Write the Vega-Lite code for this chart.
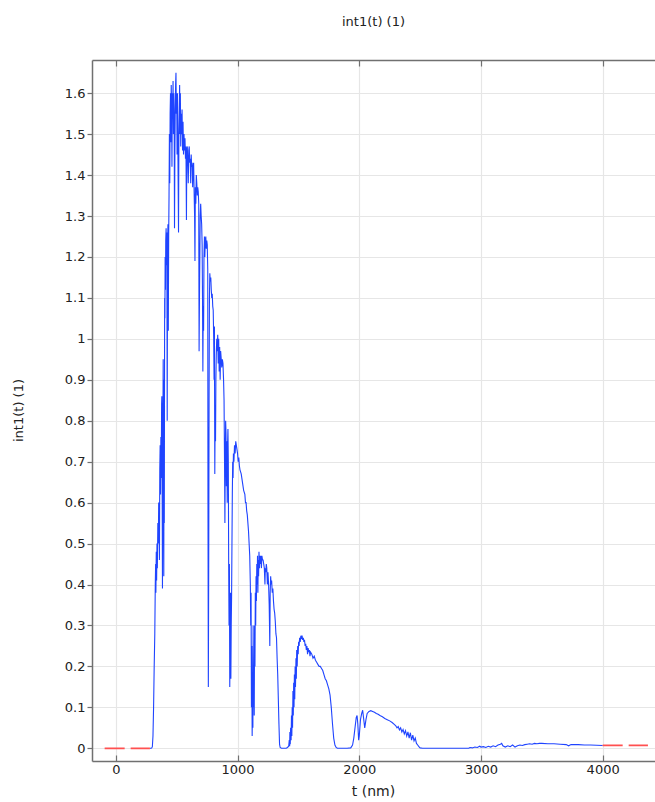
{
  "$schema": "https://vega.github.io/schema/vega-lite/v6.json",
  "width": 563,
  "height": 701,
  "autosize": {"type": "none"},
  "padding": {"left": 92, "top": 60, "right": 0, "bottom": 41},
  "background": "white",
  "config": {
    "view": {"stroke": null},
    "font": "DejaVu Sans",
    "axis": {
      "domainColor": "#707070", "domainWidth": 1.5,
      "tickColor": "#707070", "tickWidth": 1.2,
      "gridColor": "#e6e6e6", "gridWidth": 1.2,
      "labelFont": "DejaVu Sans", "labelFontSize": 13, "labelColor": "#222222",
      "titleFont": "DejaVu Sans", "titleFontSize": 13, "titleFontWeight": "normal", "titleColor": "#222222"
    }
  },
  "title": {"text": "int1(t) (1)", "font": "DejaVu Sans", "fontSize": 13, "fontWeight": "normal", "color": "#222222", "anchor": "middle", "baseline": "bottom", "offset": 17, "frame": "group"},
  "datasets": {
    "spec": [
      {"t":280,"v":0},{"t":290,"v":0},{"t":295,"v":0.001},{"t":300,"v":0.004},{"t":305,"v":0.03},{"t":310,"v":0.1},{"t":315,"v":0.2},{"t":320,"v":0.28},{"t":324,"v":0.4},{"t":327,"v":0.45},{"t":329,"v":0.38},{"t":332,"v":0.48},{"t":335,"v":0.41},{"t":338,"v":0.5},{"t":341,"v":0.44},{"t":345,"v":0.55},{"t":349,"v":0.5},{"t":352,"v":0.6},{"t":355,"v":0.58},{"t":358,"v":0.46},{"t":361,"v":0.68},{"t":364,"v":0.74},{"t":367,"v":0.62},{"t":370,"v":0.76},{"t":373,"v":0.66},{"t":376,"v":0.84},{"t":378,"v":0.86},{"t":380,"v":0.7},{"t":383,"v":0.39},{"t":386,"v":0.74},{"t":389,"v":0.95},{"t":392,"v":0.6},{"t":394,"v":0.42},{"t":396,"v":0.9},{"t":398,"v":0.55},{"t":401,"v":1.1},{"t":403,"v":1.05},{"t":405,"v":1.2},{"t":408,"v":1.12},{"t":410,"v":1.24},{"t":413,"v":1.27},{"t":416,"v":1.18},{"t":419,"v":1.26},{"t":422,"v":0.8},{"t":425,"v":1.22},{"t":428,"v":1.28},{"t":431,"v":1.02},{"t":434,"v":1.25},{"t":437,"v":1.35},{"t":440,"v":1.5},{"t":443,"v":1.38},{"t":446,"v":1.55},{"t":449,"v":1.6},{"t":452,"v":1.48},{"t":455,"v":1.62},{"t":458,"v":1.56},{"t":461,"v":1.42},{"t":464,"v":1.6},{"t":467,"v":1.54},{"t":470,"v":1.63},{"t":473,"v":1.5},{"t":476,"v":1.6},{"t":479,"v":1.55},{"t":482,"v":1.27},{"t":485,"v":1.45},{"t":488,"v":1.56},{"t":491,"v":1.62},{"t":494,"v":1.65},{"t":497,"v":1.55},{"t":500,"v":1.6},{"t":503,"v":1.45},{"t":506,"v":1.6},{"t":509,"v":1.5},{"t":512,"v":1.38},{"t":515,"v":1.26},{"t":518,"v":1.5},{"t":521,"v":1.56},{"t":524,"v":1.62},{"t":527,"v":1.5},{"t":530,"v":1.6},{"t":533,"v":1.47},{"t":536,"v":1.55},{"t":540,"v":1.5},{"t":544,"v":1.56},{"t":548,"v":1.46},{"t":552,"v":1.53},{"t":556,"v":1.45},{"t":560,"v":1.5},{"t":564,"v":1.46},{"t":568,"v":1.49},{"t":572,"v":1.44},{"t":576,"v":1.47},{"t":580,"v":1.29},{"t":583,"v":1.46},{"t":587,"v":1.47},{"t":591,"v":1.43},{"t":595,"v":1.38},{"t":599,"v":1.46},{"t":603,"v":1.47},{"t":607,"v":1.43},{"t":611,"v":1.44},{"t":615,"v":1.38},{"t":619,"v":1.45},{"t":623,"v":1.42},{"t":627,"v":1.43},{"t":631,"v":1.37},{"t":635,"v":1.42},{"t":639,"v":1.43},{"t":643,"v":1.36},{"t":647,"v":1.3},{"t":650,"v":1.19},{"t":653,"v":1.37},{"t":657,"v":1.33},{"t":661,"v":1.4},{"t":665,"v":1.38},{"t":669,"v":1.35},{"t":673,"v":1.37},{"t":677,"v":1.36},{"t":681,"v":1.33},{"t":684,"v":0.97},{"t":687,"v":1.1},{"t":690,"v":1.2},{"t":693,"v":1.3},{"t":697,"v":1.33},{"t":701,"v":1.3},{"t":705,"v":1.28},{"t":709,"v":1.23},{"t":712,"v":1.1},{"t":715,"v":0.92},{"t":718,"v":1.08},{"t":721,"v":1.02},{"t":724,"v":1.2},{"t":728,"v":1.25},{"t":731,"v":1.2},{"t":735,"v":1.24},{"t":739,"v":1.25},{"t":743,"v":1.22},{"t":747,"v":1.24},{"t":751,"v":1.23},{"t":755,"v":1.17},{"t":757,"v":0.6},{"t":760,"v":0.15},{"t":763,"v":0.45},{"t":766,"v":0.85},{"t":769,"v":1.1},{"t":772,"v":1.16},{"t":776,"v":1.14},{"t":780,"v":1.15},{"t":784,"v":1.12},{"t":788,"v":1.1},{"t":792,"v":1.11},{"t":796,"v":1.08},{"t":800,"v":1.07},{"t":804,"v":1.0},{"t":807,"v":0.9},{"t":810,"v":1.03},{"t":813,"v":0.67},{"t":816,"v":0.82},{"t":819,"v":0.75},{"t":822,"v":0.9},{"t":825,"v":0.96},{"t":829,"v":1.0},{"t":833,"v":0.97},{"t":837,"v":1.01},{"t":841,"v":0.94},{"t":845,"v":1.0},{"t":849,"v":0.92},{"t":853,"v":0.98},{"t":857,"v":0.9},{"t":861,"v":0.97},{"t":866,"v":0.95},{"t":870,"v":0.93},{"t":875,"v":0.95},{"t":880,"v":0.94},{"t":885,"v":0.9},{"t":889,"v":0.85},{"t":893,"v":0.7},{"t":896,"v":0.55},{"t":899,"v":0.7},{"t":902,"v":0.8},{"t":905,"v":0.77},{"t":908,"v":0.64},{"t":912,"v":0.75},{"t":915,"v":0.6},{"t":918,"v":0.74},{"t":921,"v":0.78},{"t":924,"v":0.7},{"t":927,"v":0.45},{"t":930,"v":0.3},{"t":933,"v":0.45},{"t":936,"v":0.15},{"t":939,"v":0.26},{"t":942,"v":0.38},{"t":945,"v":0.17},{"t":948,"v":0.3},{"t":951,"v":0.37},{"t":954,"v":0.5},{"t":957,"v":0.62},{"t":960,"v":0.7},{"t":963,"v":0.66},{"t":966,"v":0.72},{"t":970,"v":0.7},{"t":975,"v":0.74},{"t":980,"v":0.72},{"t":985,"v":0.75},{"t":990,"v":0.74},{"t":995,"v":0.73},{"t":1000,"v":0.72},{"t":1005,"v":0.7},{"t":1010,"v":0.71},{"t":1015,"v":0.69},{"t":1020,"v":0.68},{"t":1030,"v":0.67},{"t":1040,"v":0.65},{"t":1050,"v":0.63},{"t":1060,"v":0.62},{"t":1065,"v":0.6},{"t":1070,"v":0.6},{"t":1075,"v":0.58},{"t":1080,"v":0.57},{"t":1085,"v":0.55},{"t":1090,"v":0.53},{"t":1095,"v":0.5},{"t":1100,"v":0.47},{"t":1105,"v":0.4},{"t":1108,"v":0.3},{"t":1111,"v":0.38},{"t":1114,"v":0.1},{"t":1117,"v":0.25},{"t":1120,"v":0.03},{"t":1123,"v":0.12},{"t":1126,"v":0.05},{"t":1128,"v":0.3},{"t":1131,"v":0.1},{"t":1134,"v":0.2},{"t":1137,"v":0.08},{"t":1140,"v":0.3},{"t":1143,"v":0.2},{"t":1146,"v":0.38},{"t":1149,"v":0.3},{"t":1152,"v":0.42},{"t":1155,"v":0.36},{"t":1158,"v":0.45},{"t":1161,"v":0.4},{"t":1164,"v":0.47},{"t":1167,"v":0.38},{"t":1170,"v":0.46},{"t":1173,"v":0.42},{"t":1176,"v":0.48},{"t":1180,"v":0.44},{"t":1184,"v":0.47},{"t":1188,"v":0.45},{"t":1192,"v":0.47},{"t":1196,"v":0.44},{"t":1200,"v":0.47},{"t":1205,"v":0.46},{"t":1210,"v":0.46},{"t":1215,"v":0.45},{"t":1220,"v":0.44},{"t":1225,"v":0.4},{"t":1228,"v":0.44},{"t":1232,"v":0.43},{"t":1236,"v":0.45},{"t":1240,"v":0.44},{"t":1245,"v":0.4},{"t":1250,"v":0.43},{"t":1255,"v":0.4},{"t":1260,"v":0.35},{"t":1265,"v":0.25},{"t":1268,"v":0.38},{"t":1272,"v":0.42},{"t":1276,"v":0.4},{"t":1280,"v":0.41},{"t":1285,"v":0.38},{"t":1290,"v":0.39},{"t":1295,"v":0.36},{"t":1300,"v":0.34},{"t":1305,"v":0.33},{"t":1310,"v":0.31},{"t":1315,"v":0.28},{"t":1320,"v":0.27},{"t":1325,"v":0.22},{"t":1330,"v":0.18},{"t":1335,"v":0.12},{"t":1340,"v":0.06},{"t":1345,"v":0.01},{"t":1350,"v":0.002},{"t":1360,"v":0},{"t":1400,"v":0},{"t":1410,"v":0.002},{"t":1420,"v":0.005},{"t":1425,"v":0.02},{"t":1428,"v":0.005},{"t":1430,"v":0.04},{"t":1433,"v":0.01},{"t":1436,"v":0.05},{"t":1440,"v":0.02},{"t":1443,"v":0.08},{"t":1446,"v":0.03},{"t":1449,"v":0.1},{"t":1452,"v":0.05},{"t":1455,"v":0.14},{"t":1458,"v":0.08},{"t":1461,"v":0.16},{"t":1464,"v":0.1},{"t":1467,"v":0.18},{"t":1470,"v":0.12},{"t":1473,"v":0.2},{"t":1476,"v":0.15},{"t":1480,"v":0.22},{"t":1483,"v":0.17},{"t":1486,"v":0.24},{"t":1490,"v":0.2},{"t":1494,"v":0.25},{"t":1498,"v":0.23},{"t":1502,"v":0.26},{"t":1506,"v":0.25},{"t":1510,"v":0.27},{"t":1515,"v":0.26},{"t":1520,"v":0.275},{"t":1525,"v":0.27},{"t":1530,"v":0.275},{"t":1535,"v":0.265},{"t":1540,"v":0.27},{"t":1545,"v":0.26},{"t":1550,"v":0.265},{"t":1555,"v":0.25},{"t":1560,"v":0.255},{"t":1565,"v":0.24},{"t":1570,"v":0.25},{"t":1575,"v":0.23},{"t":1580,"v":0.245},{"t":1585,"v":0.235},{"t":1590,"v":0.24},{"t":1595,"v":0.225},{"t":1600,"v":0.235},{"t":1610,"v":0.23},{"t":1620,"v":0.22},{"t":1630,"v":0.225},{"t":1640,"v":0.215},{"t":1650,"v":0.21},{"t":1660,"v":0.205},{"t":1670,"v":0.2},{"t":1680,"v":0.2},{"t":1690,"v":0.195},{"t":1700,"v":0.19},{"t":1710,"v":0.18},{"t":1720,"v":0.17},{"t":1730,"v":0.165},{"t":1740,"v":0.155},{"t":1750,"v":0.145},{"t":1760,"v":0.13},{"t":1770,"v":0.1},{"t":1780,"v":0.06},{"t":1790,"v":0.025},{"t":1800,"v":0.008},{"t":1810,"v":0.002},{"t":1820,"v":0},{"t":1900,"v":0},{"t":1930,"v":0.001},{"t":1945,"v":0.008},{"t":1955,"v":0.025},{"t":1965,"v":0.05},{"t":1975,"v":0.075},{"t":1982,"v":0.08},{"t":1988,"v":0.06},{"t":1995,"v":0.02},{"t":2000,"v":0.03},{"t":2010,"v":0.07},{"t":2020,"v":0.085},{"t":2028,"v":0.093},{"t":2035,"v":0.075},{"t":2045,"v":0.05},{"t":2055,"v":0.07},{"t":2065,"v":0.085},{"t":2080,"v":0.09},{"t":2095,"v":0.092},{"t":2110,"v":0.09},{"t":2125,"v":0.088},{"t":2140,"v":0.085},{"t":2155,"v":0.083},{"t":2170,"v":0.08},{"t":2190,"v":0.077},{"t":2210,"v":0.073},{"t":2230,"v":0.07},{"t":2250,"v":0.067},{"t":2270,"v":0.063},{"t":2290,"v":0.058},{"t":2300,"v":0.055},{"t":2310,"v":0.05},{"t":2320,"v":0.053},{"t":2330,"v":0.045},{"t":2340,"v":0.05},{"t":2350,"v":0.04},{"t":2360,"v":0.046},{"t":2370,"v":0.035},{"t":2380,"v":0.043},{"t":2390,"v":0.03},{"t":2400,"v":0.04},{"t":2410,"v":0.025},{"t":2420,"v":0.038},{"t":2430,"v":0.02},{"t":2440,"v":0.032},{"t":2450,"v":0.018},{"t":2460,"v":0.025},{"t":2470,"v":0.012},{"t":2480,"v":0.008},{"t":2490,"v":0.004},{"t":2500,"v":0.001},{"t":2520,"v":0},{"t":2900,"v":0},{"t":2910,"v":0.002},{"t":2930,"v":0.001},{"t":2950,"v":0.003},{"t":2970,"v":0.002},{"t":2990,"v":0.005},{"t":3000,"v":0.003},{"t":3020,"v":0.004},{"t":3040,"v":0.002},{"t":3060,"v":0.005},{"t":3080,"v":0.003},{"t":3100,"v":0.006},{"t":3120,"v":0.004},{"t":3140,"v":0.008},{"t":3160,"v":0.01},{"t":3170,"v":0.012},{"t":3180,"v":0.006},{"t":3200,"v":0.003},{"t":3220,"v":0.006},{"t":3240,"v":0.004},{"t":3260,"v":0.008},{"t":3280,"v":0.003},{"t":3300,"v":0.006},{"t":3320,"v":0.008},{"t":3340,"v":0.007},{"t":3360,"v":0.009},{"t":3380,"v":0.01},{"t":3400,"v":0.011},{"t":3420,"v":0.01},{"t":3440,"v":0.012},{"t":3460,"v":0.011},{"t":3480,"v":0.012},{"t":3500,"v":0.012},{"t":3550,"v":0.011},{"t":3600,"v":0.011},{"t":3650,"v":0.01},{"t":3700,"v":0.009},{"t":3720,"v":0.006},{"t":3740,"v":0.009},{"t":3800,"v":0.009},{"t":3850,"v":0.008},{"t":3900,"v":0.008},{"t":3950,"v":0.0075},{"t":4000,"v":0.007}
    ],
    "ext": [
      {"t":-92,"v":0,"s":"a"},{"t":280,"v":0,"s":"a"},
      {"t":4000,"v":0.007,"s":"b"},{"t":4372,"v":0.007,"s":"b"}
    ]
  },
  "layer": [
    {
      "data": {"name": "spec"},
      "mark": {"type": "line", "color": "#1f44ff", "strokeWidth": 1.1, "clip": true},
      "encoding": {
        "x": {"field": "t", "type": "quantitative", "scale": {"domain": [-196, 4430], "nice": false, "zero": false},
              "axis": {"orient": "bottom", "values": [0, 1000, 2000, 3000, 4000], "format": "d", "grid": true, "tickSize": -6, "labelPadding": 8, "title": "t (nm)", "titleX": 281, "titleY": 34, "titleBaseline": "alphabetic", "titleAlign": "center", "titleFontSize": 14}},
        "y": {"field": "v", "type": "quantitative", "scale": {"domain": [-0.031, 1.681], "nice": false, "zero": false},
              "axis": {"values": [0,0.1,0.2,0.3,0.4,0.5,0.6,0.7,0.8,0.9,1,1.1,1.2,1.3,1.4,1.5,1.6], "format": "~g", "grid": true, "tickSize": 5, "labelPadding": 2, "title": "int1(t) (1)", "titleX": -74, "titleY": 350, "titleAngle": -90, "titleBaseline": "middle", "titleAlign": "center", "titleFontSize": 13}}
      }
    },
    {
      "data": {"name": "ext"},
      "mark": {"type": "line", "color": "#ff5050", "strokeWidth": 1.8, "strokeDash": [20, 6], "clip": true},
      "encoding": {
        "x": {"field": "t", "type": "quantitative",
              "axis": {"orient": "top", "labels": false, "title": null, "grid": false, "values": [0, 1000, 2000, 3000, 4000], "tickSize": -6}},
        "y": {"field": "v", "type": "quantitative"},
        "detail": {"field": "s", "type": "nominal"}
      }
    }
  ]
}
